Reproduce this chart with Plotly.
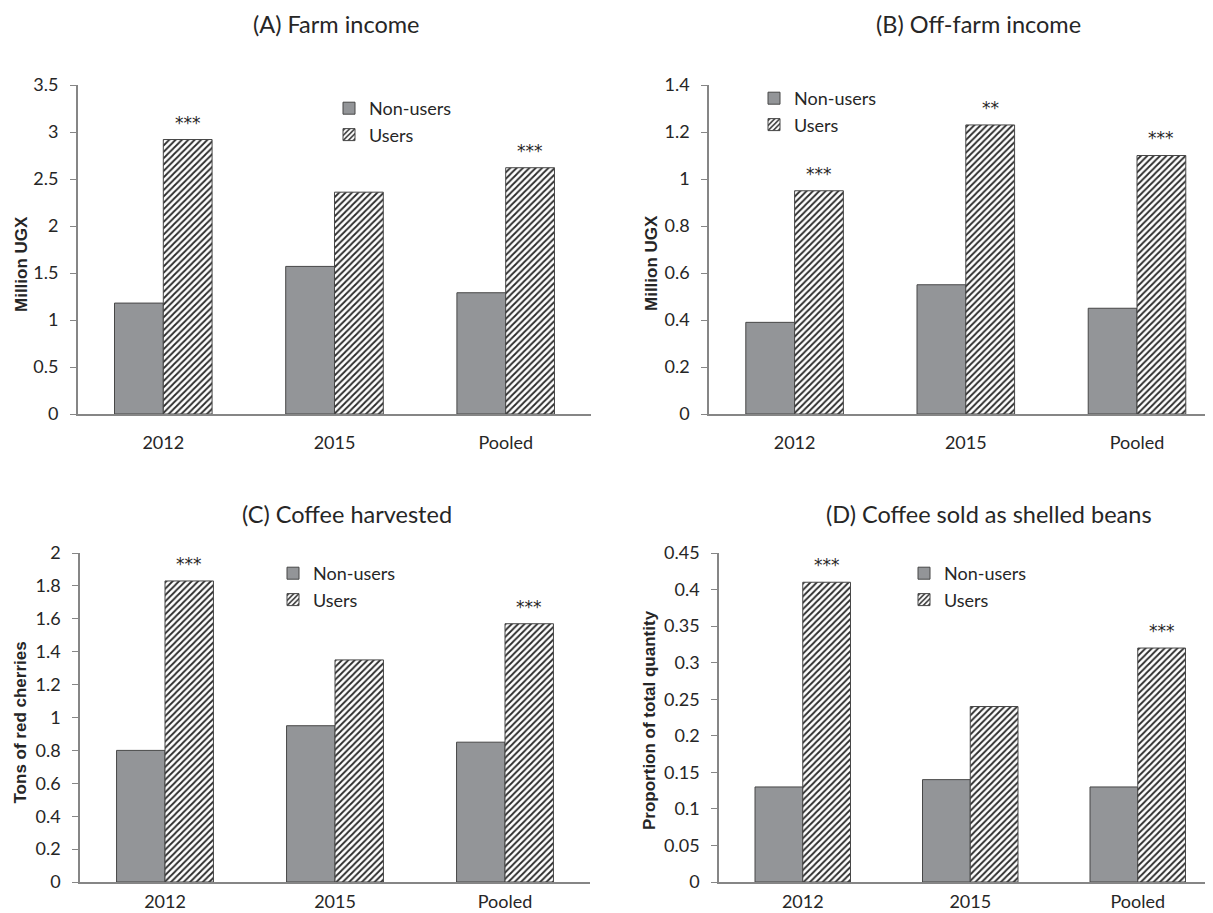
import plotly.graph_objects as go

categories = ["2012", "2015", "Pooled"]

panel_titles = ["(A) Farm income", "(B) Off-farm income", "(C) Coffee harvested", "(D) Coffee sold as shelled beans"]
y_titles = ["Million UGX", "Million UGX", "Tons of red cherries", "Proportion of total quantity"]

nonusers_A = [1.18, 1.57, 1.29]
users_A = [2.92, 2.36, 2.62]
stars_A = ["***", "", "***"]

nonusers_B = [0.39, 0.55, 0.45]
users_B = [0.95, 1.23, 1.10]
stars_B = ["***", "**", "***"]

nonusers_C = [0.80, 0.95, 0.85]
users_C = [1.83, 1.35, 1.57]
stars_C = ["***", "", "***"]

nonusers_D = [0.13, 0.14, 0.13]
users_D = [0.41, 0.24, 0.32]
stars_D = ["***", "", "***"]

y_ranges = [[0, 3.5], [0, 1.4], [0, 2], [0, 0.45]]
y_dticks = [0.5, 0.2, 0.2, 0.05]

# ---- layout geometry (page pixels; page body has an 8px margin) ----
OFF = 8
W, H = 1213 - OFF, 913 - OFF

def fx(p):
    return (p - OFF) / W

def fy(p):
    return 1 - (p - OFF) / H

# plot-area pixel extents; right-hand panels are cut by the page edge
x_px = [(77.7, 591), (709, 1213), (80, 590), (719, 1213)]
cat_px = [171.2, 171.2, 170.0, 167.5]      # width of one category slot in px
y_px = [(414, 85), (414, 85), (882, 553), (882, 553)]
xlabel_gap = [12, 12, 3, 3]
title_pos = [(337, 24), (978, 24), (347, 514), (989, 514)]
ytitle_pos = [(21, 264), (651, 263), (19.5, 723), (649, 720)]
legend_pos = [(329, 90), (754, 80), (273, 555), (904, 555)]

data = [
    (nonusers_A, users_A, stars_A),
    (nonusers_B, users_B, stars_B),
    (nonusers_C, users_C, stars_C),
    (nonusers_D, users_D, stars_D),
]

font_main = "Lato, Open Sans, sans-serif"
txt = "#262626"
fig = go.Figure()
annotations = []
layout = {}

for i, (nu, us, st) in enumerate(data):
    sfx = "" if i == 0 else str(i + 1)
    xa, ya = "x" + sfx, "y" + sfx
    leg = "legend" + sfx
    fig.add_trace(go.Bar(
        x=categories, y=nu, name="Non-users", xaxis=xa, yaxis=ya, legend=leg,
        marker=dict(color="#939598", line=dict(color="#474747", width=1)),
    ))
    fig.add_trace(go.Bar(
        x=categories, y=us, name="Users", xaxis=xa, yaxis=ya, legend=leg,
        marker=dict(color="white", line=dict(color="#474747", width=1),
                    pattern=dict(shape="/", fgcolor="#2a2a2a", bgcolor="white", size=4.5, solidity=0.4)),
    ))
    x0, x1 = x_px[i]
    visible_cats = (x1 - x0) / cat_px[i]
    layout["xaxis" + sfx] = dict(
        domain=[fx(x0), fx(x1)], anchor=ya, type="category", automargin=False,
        range=[-0.5, -0.5 + visible_cats],
        showline=True, linecolor="#868686", linewidth=1.5,
        ticks="outside", ticklen=xlabel_gap[i], tickcolor="rgba(0,0,0,0)", showgrid=False,
        tickfont=dict(family=font_main, size=18, color=txt),
    )
    yb, yt = y_px[i]
    layout["yaxis" + sfx] = dict(
        domain=[fy(yb), fy(yt)], anchor=xa, range=y_ranges[i], dtick=y_dticks[i], automargin=False,
        showline=True, linecolor="#868686", linewidth=1.5, ticks="outside",
        ticklen=6, tickcolor="#868686", showgrid=False, zeroline=False,
        ticklabelstandoff=8,
        tickfont=dict(family=font_main, size=18, color=txt),
    )
    layout[leg] = dict(
        x=fx(legend_pos[i][0]), y=fy(legend_pos[i][1]), xanchor="left", yanchor="top",
        bgcolor="rgba(0,0,0,0)", font=dict(family=font_main, size=18, color=txt),
    )
    for j, (v, s) in enumerate(zip(us, st)):
        if s:
            # category index j on the category axis
            annotations.append(dict(
                x=j, y=v, xref=xa, yref=ya, text=s, showarrow=False,
                xshift=cat_px[i] * 0.57 / 4, yshift=5, yanchor="bottom",
                font=dict(family="DejaVu Sans, sans-serif", size=17, color=txt),
            ))
    annotations.append(dict(
        x=fx(title_pos[i][0]), y=fy(title_pos[i][1]), xref="paper", yref="paper",
        text=panel_titles[i], showarrow=False, xanchor="center", yanchor="middle",
        font=dict(family=font_main, size=23.5, color=txt),
    ))
    annotations.append(dict(
        x=fx(ytitle_pos[i][0]), y=fy(ytitle_pos[i][1]), xref="paper", yref="paper",
        text="<b>" + y_titles[i] + "</b>", showarrow=False, textangle=-90,
        xanchor="center", yanchor="middle",
        font=dict(family="Liberation Sans, Arial, sans-serif", size=17, color=txt),
    ))

fig.update_layout(
    template="none",
    width=W, height=H, margin=dict(l=0, r=0, t=0, b=0, autoexpand=False),
    paper_bgcolor="white", plot_bgcolor="white",
    barmode="group", bargap=0.43, bargroupgap=0,
    annotations=annotations, showlegend=True,
    **layout,
)

fig.write_html("out.html")
